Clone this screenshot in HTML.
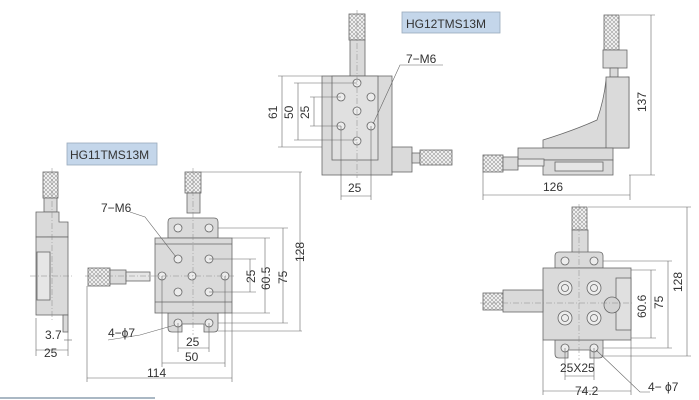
<!DOCTYPE html>
<html><head><meta charset="utf-8"><style>
html,body{margin:0;padding:0;background:#fff;}
svg{display:block;font-family:"Liberation Sans",sans-serif;}
</style></head><body>
<svg width="699" height="400" viewBox="0 0 699 400" xmlns="http://www.w3.org/2000/svg">
<defs>
<pattern id="kn" width="4" height="4" patternUnits="userSpaceOnUse"><rect width="4" height="4" fill="#eeeeee"/><path d="M0 0L4 4M4 0L0 4" stroke="#888" stroke-width="0.5"/></pattern>
</defs>
<g stroke="#666" stroke-width="0.8" fill="#dadada">
<rect x="67" y="143" width="90" height="22" fill="#c4d6ea" stroke="#9ab"/>
<rect x="402" y="12" width="98" height="21" fill="#c4d6ea" stroke="#9ab"/>
<line x1="0" y1="398" x2="155" y2="398" stroke="#aab8c4" stroke-width="2"/>

<rect x="43" y="172" width="15" height="26" fill="url(#kn)"/>
<rect x="44" y="198" width="13" height="14"/>
<path d="M36 212H59V222H68V237H36Z"/>
<rect x="47" y="237" width="8" height="10"/>
<rect x="36" y="237" width="32" height="78"/>
<rect x="37" y="252" width="13" height="48" fill="#e6e6e6"/>
<rect x="63" y="315" width="5" height="17"/>

<rect x="185" y="172" width="16" height="21" fill="url(#kn)"/>
<rect x="187" y="193" width="13" height="20"/>
<path d="M168 238V222Q168 218 172 218H214Q218 218 218 222V238Z"/>
<path d="M168 313V328Q168 332 172 332H182V324H204V332H214Q218 332 218 328V313Z"/>
<rect x="155" y="238" width="77" height="75"/>
<line x1="155" y1="244" x2="232" y2="244"/><line x1="155" y1="302" x2="232" y2="302"/>
<rect x="88" y="268" width="22" height="18" fill="url(#kn)"/>
<rect x="110" y="270" width="16" height="14"/>
<rect x="126" y="272" width="24" height="9" fill="#e6e6e6"/>
<g fill="#ececec">
<circle cx="178" cy="259" r="4"/><circle cx="209" cy="259" r="4"/>
<circle cx="162" cy="276" r="4"/><circle cx="192" cy="276" r="4"/><circle cx="225" cy="276" r="4"/>
<circle cx="178" cy="292" r="4"/><circle cx="209" cy="292" r="4"/>
<circle cx="178" cy="228" r="4"/><circle cx="209" cy="228" r="4"/>
<circle cx="178" cy="323" r="4"/><circle cx="209" cy="323" r="4"/>
</g>

<rect x="349" y="14" width="16" height="26" fill="url(#kn)"/>
<rect x="350" y="40" width="15" height="36"/>
<rect x="322" y="76" width="70" height="99"/>
<rect x="332" y="76" width="46" height="84" fill="#e0e0e0"/>
<rect x="392" y="147" width="20" height="25"/>
<rect x="412" y="153" width="8" height="10"/>
<rect x="420" y="150" width="32" height="15" fill="url(#kn)"/>
<g fill="#ececec">
<circle cx="357" cy="83" r="4"/><circle cx="341" cy="97" r="4"/><circle cx="371" cy="97" r="4"/>
<circle cx="357" cy="111" r="4"/><circle cx="341" cy="126" r="4"/><circle cx="371" cy="126" r="4"/>
<circle cx="357" cy="141" r="4"/>
</g>

<rect x="604" y="15" width="15" height="35" fill="url(#kn)"/>
<rect x="603" y="50" width="24" height="18"/>
<rect x="610" y="68" width="8" height="9"/>
<path d="M543 148V140Q575 130 597 120Q604 100 606 80L629 77V148Z"/>
<rect x="606" y="77" width="23" height="71"/>
<rect x="518" y="148" width="95" height="12"/>
<rect x="543" y="160" width="70" height="15"/>
<rect x="555" y="162" width="48" height="9" fill="#e6e6e6"/>
<rect x="483" y="155" width="20" height="17" fill="url(#kn)"/>
<rect x="503" y="157" width="15" height="13"/>
<rect x="518" y="159" width="26" height="7" fill="#e6e6e6"/>

<rect x="572" y="207" width="15" height="23" fill="url(#kn)"/>
<rect x="572" y="230" width="16" height="30"/>
<path d="M555 268V256Q555 252 559 252H599Q603 252 603 256V268Z"/>
<path d="M555 340V354Q555 358 559 358H568V350H590V358H599Q603 358 603 354V340Z"/>
<rect x="543" y="268" width="88" height="72"/>
<rect x="616" y="278" width="15" height="52" fill="#e0e0e0"/>
<circle cx="612" cy="305" r="8" fill="#d2d2d2"/>
<rect x="483" y="293" width="20" height="17" fill="url(#kn)"/>
<rect x="503" y="290" width="40" height="22"/>
<g fill="#ececec">
<circle cx="565" cy="288" r="7"/><circle cx="594" cy="288" r="7"/>
<circle cx="565" cy="318" r="7"/><circle cx="594" cy="318" r="7"/>
<circle cx="565" cy="288" r="3.5"/><circle cx="594" cy="288" r="3.5"/>
<circle cx="565" cy="318" r="3.5"/><circle cx="594" cy="318" r="3.5"/>
<circle cx="565" cy="261" r="4"/><circle cx="594" cy="261" r="4"/>
<circle cx="565" cy="348" r="4"/><circle cx="594" cy="348" r="4"/>
</g>
</g>

<g stroke="#888" stroke-width="0.5" stroke-dasharray="6,2,1,2" fill="none">
<line x1="52" y1="168" x2="52" y2="320"/><line x1="30" y1="276" x2="72" y2="276"/>
<line x1="193" y1="168" x2="193" y2="335"/><line x1="85" y1="276" x2="236" y2="276"/>
<line x1="357" y1="10" x2="357" y2="178"/>
<line x1="579" y1="204" x2="579" y2="360"/><line x1="480" y1="303" x2="634" y2="303"/>
</g>

<g stroke="#666" stroke-width="0.6" fill="none">
<line x1="36" y1="318" x2="36" y2="356"/><line x1="68" y1="332" x2="68" y2="356"/>
<line x1="64" y1="340" x2="72" y2="340"/><line x1="36" y1="350" x2="68" y2="350"/>
<line x1="209" y1="259" x2="256" y2="259"/><line x1="209" y1="292" x2="256" y2="292"/>
<line x1="250" y1="259" x2="250" y2="292"/>
<line x1="232" y1="238" x2="270" y2="238"/><line x1="232" y1="313" x2="270" y2="313"/>
<line x1="265" y1="238" x2="265" y2="313"/>
<line x1="218" y1="228" x2="288" y2="228"/><line x1="218" y1="323" x2="288" y2="323"/>
<line x1="283" y1="228" x2="283" y2="323"/>
<line x1="201" y1="172" x2="302" y2="172"/><line x1="218" y1="331" x2="302" y2="331"/>
<line x1="300" y1="172" x2="300" y2="331"/>
<line x1="178" y1="323" x2="178" y2="352"/><line x1="209" y1="323" x2="209" y2="352"/>
<line x1="178" y1="348" x2="209" y2="348"/>
<line x1="162" y1="276" x2="162" y2="367"/><line x1="225" y1="276" x2="225" y2="367"/>
<line x1="162" y1="363" x2="225" y2="363"/>
<line x1="87" y1="286" x2="87" y2="382"/><line x1="232" y1="313" x2="232" y2="382"/>
<line x1="87" y1="378" x2="232" y2="378"/>
<polyline points="130,212 145,217 176,257"/>
<polyline points="108,340 140,335 175,325"/>
<line x1="278" y1="76" x2="322" y2="76"/><line x1="278" y1="147" x2="322" y2="147"/>
<line x1="282" y1="76" x2="282" y2="147"/>
<line x1="294" y1="83" x2="357" y2="83"/><line x1="294" y1="140" x2="357" y2="140"/>
<line x1="298" y1="83" x2="298" y2="140"/>
<line x1="310" y1="97" x2="341" y2="97"/><line x1="310" y1="126" x2="341" y2="126"/>
<line x1="314" y1="97" x2="314" y2="126"/>
<line x1="341" y1="126" x2="341" y2="200"/><line x1="371" y1="126" x2="371" y2="200"/>
<line x1="341" y1="196" x2="371" y2="196"/>
<polyline points="443,65 400,65 373,124"/>
<line x1="620" y1="15" x2="655" y2="15"/><line x1="629" y1="175" x2="655" y2="175"/>
<line x1="651" y1="15" x2="651" y2="175"/>
<line x1="483" y1="172" x2="483" y2="200"/><line x1="630" y1="175" x2="630" y2="200"/>
<line x1="483" y1="195" x2="630" y2="195"/>
<line x1="631" y1="270" x2="656" y2="270"/><line x1="631" y1="338" x2="656" y2="338"/>
<line x1="651" y1="270" x2="651" y2="338"/>
<line x1="603" y1="261" x2="672" y2="261"/><line x1="603" y1="348" x2="672" y2="348"/>
<line x1="668" y1="261" x2="668" y2="348"/>
<line x1="588" y1="207" x2="691" y2="207"/><line x1="603" y1="356" x2="691" y2="356"/>
<line x1="687" y1="207" x2="687" y2="356"/>
<line x1="565" y1="348" x2="565" y2="380"/><line x1="594" y1="348" x2="594" y2="380"/>
<line x1="565" y1="376" x2="594" y2="376"/>
<line x1="543" y1="340" x2="543" y2="395"/><line x1="631" y1="340" x2="631" y2="395"/>
<line x1="543" y1="391" x2="631" y2="391"/>
<polyline points="596,350 640,392 650,392"/>
</g>

<g font-size="12" fill="#333">
<text x="70" y="159">HG11TMS13M</text>
<text x="406" y="28">HG12TMS13M</text>
<text x="45" y="339">3.7</text>
<text x="44" y="357">25</text>
<text x="101" y="212">7−M6</text>
<text x="108" y="337">4−ϕ7</text>
<text x="186" y="346">25</text>
<text x="185" y="361">50</text>
<text x="147" y="377">114</text>
<text transform="translate(255,283) rotate(-90)">25</text>
<text transform="translate(270,290) rotate(-90)">60.5</text>
<text transform="translate(287,284) rotate(-90)">75</text>
<text transform="translate(304,262) rotate(-90)">128</text>
<text x="406" y="63">7−M6</text>
<text transform="translate(277,119) rotate(-90)">61</text>
<text transform="translate(293,119) rotate(-90)">50</text>
<text transform="translate(309,119) rotate(-90)">25</text>
<text x="348" y="192">25</text>
<text x="543" y="191">126</text>
<text transform="translate(646,112) rotate(-90)">137</text>
<text transform="translate(646,318) rotate(-90)">60.6</text>
<text transform="translate(663,309) rotate(-90)">75</text>
<text transform="translate(682,292) rotate(-90)">128</text>
<text x="560" y="372">25X25</text>
<text x="575" y="395">74.2</text>
<text x="648" y="391">4− ϕ7</text>
</g>
</svg>
</body></html>
